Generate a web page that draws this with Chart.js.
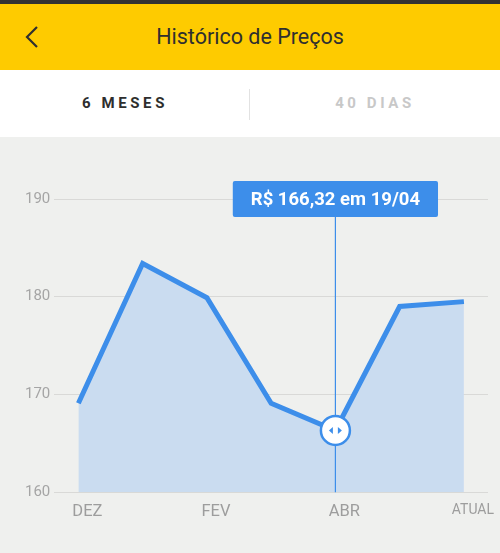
<!DOCTYPE html>
<html>
<head>
<meta charset="utf-8">
<script src="https://cdn.jsdelivr.net/npm/chart.js@4"></script>
<style>
  html, body { margin: 0; padding: 0; width: 500px; height: 553px; overflow: hidden; font-family: Roboto, sans-serif; }
  .status { height: 4px; background: #333; }
  .header { position: relative; height: 66px; background: #FECB00; }
  .header .back { position: absolute; left: 22px; top: 21px; width: 24px; height: 24px; }
  .header h1 { margin: 0; font-weight: 400; font-size: 21.5px; color: #2f2f2f; line-height: 66px; text-align: center; }
  .tabs { position: relative; height: 67px; background: #fff; display: flex; }
  .tabs div { flex: 1; text-align: center; line-height: 67px; font-size: 15px; font-weight: 700; letter-spacing: 3.6px; }
  .tabs .on { color: #2e2e2e; }
  .tabs .off { color: #c8c8c8; }
  .tabs .sep { position: absolute; left: 249px; top: 19px; width: 1px; height: 31px; background: #e2e2e2; }
  .chartwrap { position: relative; width: 500px; height: 416px; background: #EFF0EE; }
</style>
</head>
<body>
<div class="status"></div>
<div class="header">
  <svg class="back" viewBox="0 0 24 24"><polyline points="15,2 5,12 15,22" fill="none" stroke="#2f2f2f" stroke-width="2.2"/></svg>
  <h1>Histórico de Preços</h1>
</div>
<div class="tabs">
  <div class="on">6 MESES</div>
  <div class="off">40 DIAS</div>
  <span class="sep"></span>
</div>
<div class="chartwrap"><canvas id="myChart" width="500" height="416"></canvas></div>
<script>
// months on the x axis, blank ones are not labelled
var months = ['DEZ', '', 'FEV', '', 'ABR', '', 'ATUAL'];
// price per point (R$)
var prices = [169.1, 183.4, 179.9, 169.1, 166.32, 179.0, 179.5];
var yTicks = [160, 170, 180, 190];

// selected point shown in the callout
var selIndex = 4;
var selText = 'R$ 166,32 em 19/04';

var blue = '#3D8EEA';

//Draws the callout box, guide line and the handle on the selected point
var calloutPlugin = {
	id: 'callout',
	afterDatasetsDraw: function (chart) {
		var ctx = chart.ctx;
		var pt = chart.getDatasetMeta(0).data[selIndex];
		var yScale = chart.scales.y;
		var area = chart.chartArea;
		var x = pt.x, y = pt.y;

		ctx.save();
		ctx.font = 'bold 18.5px Roboto';
		var tw = ctx.measureText(selText).width;
		var bw = tw + 36, bh = 36;
		var by = yScale.getPixelForValue(yTicks[yTicks.length - 1]) - bh / 2;

		// guide line
		ctx.strokeStyle = blue;
		ctx.lineWidth = 1.2;
		ctx.beginPath();
		ctx.moveTo(x, by + bh);
		ctx.lineTo(x, area.bottom);
		ctx.stroke();

		// box
		ctx.fillStyle = blue;
		ctx.beginPath();
		ctx.roundRect(x - bw / 2, by, bw, bh, 2);
		ctx.fill();
		ctx.fillStyle = '#fff';
		ctx.textAlign = 'center';
		ctx.textBaseline = 'middle';
		ctx.fillText(selText, x, by + bh / 2 + 1);

		// handle
		ctx.beginPath();
		ctx.arc(x, y, 14.5, 0, Math.PI * 2);
		ctx.fillStyle = '#fff';
		ctx.fill();
		ctx.lineWidth = 2.5;
		ctx.strokeStyle = blue;
		ctx.stroke();

		ctx.fillStyle = blue;
		ctx.beginPath();
		ctx.moveTo(x - 6.5, y);
		ctx.lineTo(x - 2.5, y - 3.5);
		ctx.lineTo(x - 2.5, y + 3.5);
		ctx.closePath();
		ctx.fill();
		ctx.beginPath();
		ctx.moveTo(x + 6.5, y);
		ctx.lineTo(x + 2.5, y - 3.5);
		ctx.lineTo(x + 2.5, y + 3.5);
		ctx.closePath();
		ctx.fill();
		ctx.restore();
	}
};

var ctx = document.getElementById('myChart');
var myChart = new Chart(ctx, {
	type: 'line',
	data: {
		datasets: [{
			data: prices.map(function (p, i) { return {x: i, y: p}; }),
			borderColor: blue,
			borderWidth: 5,
			borderJoinStyle: 'miter',
			borderCapStyle: 'butt',
			backgroundColor: '#CADCF0',
			fill: 'start',
			pointRadius: 0,
			tension: 0
		}]
	},
	options: {
		responsive: false,
		animation: false,
		events: [],
		layout: { padding: { top: 62, left: 21, right: 12, bottom: 21 } },
		plugins: { legend: { display: false }, tooltip: { enabled: false } },
		scales: {
			x: {
				type: 'linear',
				min: -0.375,
				max: months.length - 1 + 0.375,
				afterBuildTicks: function (scale) {
					scale.ticks = months.map(function (m, i) { return m ? {value: i} : null; })
						.filter(function (t) { return t; });
				},
				grid: { display: false, drawTicks: false },
				border: { display: false },
				ticks: {
					padding: 10,
					labelOffset: 9,
					color: '#9d9d9d',
					font: function (c) {
						return { family: 'Roboto', size: months[c.tick && c.tick.value] === 'ATUAL' ? 14 : 16.5 };
					},
					callback: function (v) { return months[v]; }
				}
			},
			y: {
				min: yTicks[0],
				max: yTicks[yTicks.length - 1],
				afterBuildTicks: function (scale) {
					scale.ticks = yTicks.map(function (v) { return {value: v}; });
				},
				grid: { color: '#d9d9d7', lineWidth: 1, drawTicks: false },
				border: { display: false },
				ticks: { padding: 4, color: '#a5a5a5', font: { family: 'Roboto', size: 15 } }
			}
		}
	},
	plugins: [calloutPlugin]
});
</script>
</body>
</html>
